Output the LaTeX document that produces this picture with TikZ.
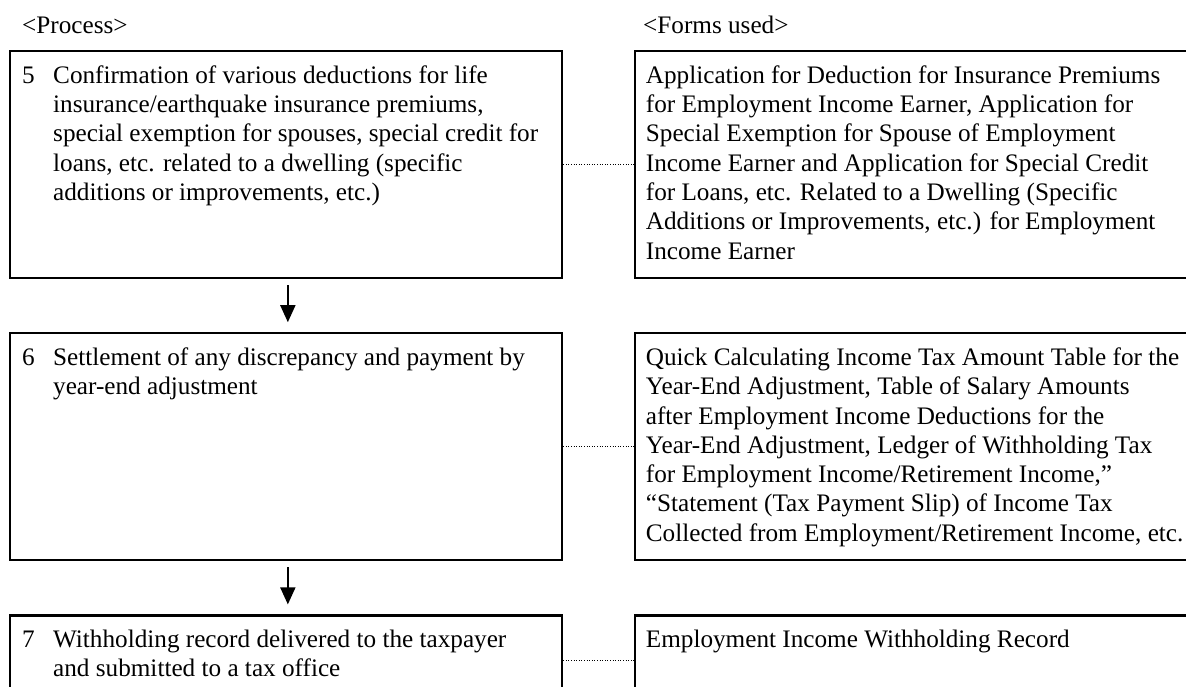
\documentclass[tikz,border=0pt]{standalone}
\usepackage{fontspec}
\setmainfont{Liberation Serif}
\usetikzlibrary{arrows.meta,positioning}
\tikzset{
	procbox/.style={
		rectangle,
		draw=black,
		line width=2.2pt,
		minimum width=552.5pt,
		minimum height=227pt,
		inner sep=0pt,
	},
	formbox/.style={
		procbox,
		minimum width=568pt,
	},
	boxtext/.style={
		anchor=north west,
		inner sep=0pt,
		align=left,
		font=\fontsize{25.2}{29.3}\selectfont,
	},
	flow/.style={
		-{Triangle[length=17pt,width=15pt]},
		line width=1.8pt,
		shorten <=6pt,
		shorten >=10pt,
	},
	link/.style={
		line width=1pt,
		dash pattern=on 1pt off 1.6pt,
	},
}
\begin{document}
\begin{tikzpicture}[x=1pt,y=1pt,node distance=53pt and 71pt]
	\useasboundingbox (0,0) rectangle (1186,-686);
	\clip (0,0) rectangle (1186,-686);
	
	% column headings
	\node [boxtext,anchor=base west] (hproc) at (22,-33) {\textless Process\textgreater};
	\node [boxtext,anchor=base west] (hform) at (643,-33) {\textless Forms used\textgreater};
	
	% process steps
	\node [procbox,anchor=north west] (b5) at (8.5,-50) {};
	\node [procbox] (b6) [below=of b5] {};
	\node [procbox,minimum height=90pt] (b7) [below=of b6] {};
	
	% forms
	\node [formbox] (f5) [right=of b5] {};
	\node [formbox] (f6) [right=of b6] {};
	\node [formbox,minimum height=90pt] (f7) [right=of b7] {};
	
	\node [boxtext] (n5) at ([shift={(13.5pt,-12.5pt)}]b5.north west) {\strut 5};
	\node [boxtext] (t5) at ([shift={(44.5pt,-12.5pt)}]b5.north west) {\strut Confirmation of various deductions for life\\
		insurance/earthquake insurance premiums,\\
		special exemption for spouses, special credit for\\
		loans, etc. related to a dwelling (specific\\
		additions or improvements, etc.)};
	\node [boxtext] (n6) at ([shift={(13.5pt,-12.5pt)}]b6.north west) {\strut 6};
	\node [boxtext] (t6) at ([shift={(44.5pt,-12.5pt)}]b6.north west) {\strut Settlement of any discrepancy and payment by\\
		year-end adjustment};
	\node [boxtext] (n7) at ([shift={(13.5pt,-12.5pt)}]b7.north west) {\strut 7};
	\node [boxtext] (t7) at ([shift={(44.5pt,-12.5pt)}]b7.north west) {\strut Withholding record delivered to the taxpayer\\
		and submitted to a tax office};
	
	\node [boxtext] (ft5) at ([shift={(11.5pt,-12.5pt)}]f5.north west) {\strut Application for Deduction for Insurance Premiums\\
		for Employment Income Earner, Application for\\
		Special Exemption for Spouse of Employment\\
		Income Earner and Application for Special Credit\\
		for Loans, etc. Related to a Dwelling (Specific\\
		Additions or Improvements, etc.) for Employment\\
		Income Earner};
	\node [boxtext] (ft6) at ([shift={(11.5pt,-12.5pt)}]f6.north west) {\strut Quick Calculating Income Tax Amount Table for the\\
		Year-End Adjustment, Table of Salary Amounts\\
		after Employment Income Deductions for the\\
		Year-End Adjustment, Ledger of Withholding Tax\\
		for Employment Income/Retirement Income,”\\
		“Statement (Tax Payment Slip) of Income Tax\\
		Collected from Employment/Retirement Income, etc.};
	\node [boxtext] (ft7) at ([shift={(11.5pt,-12.5pt)}]f7.north west) {\strut Employment Income Withholding Record};
	
	\draw [flow] ([xshift=2pt]b5.south) -- ([xshift=2pt]b6.north);
	\draw [flow] ([xshift=2pt]b6.south) -- ([xshift=2pt]b7.north);
	
	\draw [link] (b5.east) -- (f5.west);
	\draw [link] (b6.east) -- (f6.west);
	\draw [link] (b7.east) -- (f7.west);
\end{tikzpicture}
\end{document}
